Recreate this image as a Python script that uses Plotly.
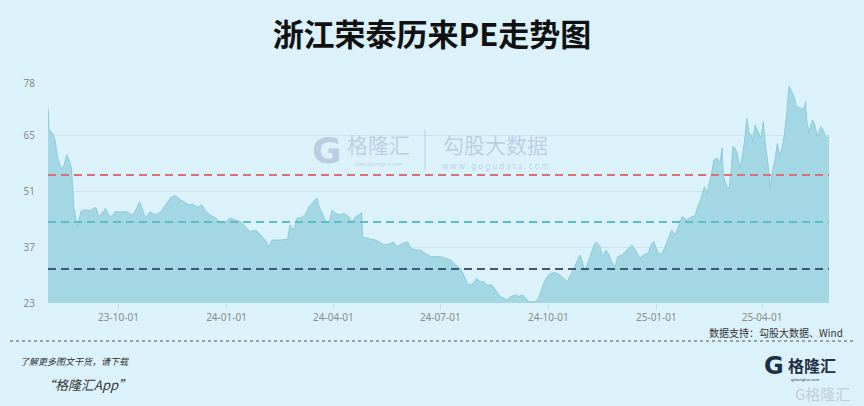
import plotly.graph_objects as go

# ---------------- data ----------------
dates = [
    "2023-08-02", "2023-08-03", "2023-08-06", "2023-08-08", "2023-08-10", "2023-08-13", "2023-08-15",
    "2023-08-18", "2023-08-20", "2023-08-22", "2023-08-24", "2023-08-26", "2023-08-27", "2023-08-30",
    "2023-09-01", "2023-09-04", "2023-09-07", "2023-09-10", "2023-09-12", "2023-09-14", "2023-09-17",
    "2023-09-20", "2023-09-23", "2023-09-26", "2023-09-28",
    "2023-10-03", "2023-10-08", "2023-10-13", "2023-10-15", "2023-10-19", "2023-10-23", "2023-10-25", "2023-10-28",
    "2023-11-01", "2023-11-06", "2023-11-10", "2023-11-14", "2023-11-17", "2023-11-19", "2023-11-23", "2023-11-27", "2023-11-30",
    "2023-12-03", "2023-12-07", "2023-12-11", "2023-12-14", "2023-12-18", "2023-12-23", "2023-12-27", "2023-12-31",
    "2024-01-04", "2024-01-09", "2024-01-13", "2024-01-17", "2024-01-21", "2024-01-26", "2024-01-30",
    "2024-02-03", "2024-02-06", "2024-02-09", "2024-02-16", "2024-02-22", "2024-02-24", "2024-02-27",
    "2024-03-01", "2024-03-05", "2024-03-08", "2024-03-11", "2024-03-14", "2024-03-16", "2024-03-18",
    "2024-03-20", "2024-03-22", "2024-03-25", "2024-03-28", "2024-03-31",
    "2024-04-03", "2024-04-06", "2024-04-10", "2024-04-14", "2024-04-17", "2024-04-20", "2024-04-23",
    "2024-04-25", "2024-04-26", "2024-04-28",
    "2024-05-03", "2024-05-07", "2024-05-11", "2024-05-15", "2024-05-20", "2024-05-22", "2024-05-25", "2024-05-30",
    "2024-06-03", "2024-06-06", "2024-06-10", "2024-06-14", "2024-06-18", "2024-06-23", "2024-06-27",
    "2024-07-01", "2024-07-05", "2024-07-10", "2024-07-14", "2024-07-18", "2024-07-21", "2024-07-24", "2024-07-27", "2024-07-30",
    "2024-08-01", "2024-08-04", "2024-08-07", "2024-08-10", "2024-08-14", "2024-08-18", "2024-08-21", "2024-08-24", "2024-08-27", "2024-08-30",
    "2024-09-03", "2024-09-06", "2024-09-09", "2024-09-12", "2024-09-14", "2024-09-19", "2024-09-22", "2024-09-24", "2024-09-27", "2024-09-30",
    "2024-10-03", "2024-10-07", "2024-10-11", "2024-10-14", "2024-10-17", "2024-10-20", "2024-10-23", "2024-10-26", "2024-10-28", "2024-10-30",
    "2024-11-01", "2024-11-03", "2024-11-06", "2024-11-09", "2024-11-11", "2024-11-14", "2024-11-16", "2024-11-19",
    "2024-11-21", "2024-11-24", "2024-11-27", "2024-11-29",
    "2024-12-03", "2024-12-07", "2024-12-11", "2024-12-14", "2024-12-18", "2024-12-21", "2024-12-25", "2024-12-28", "2024-12-30",
    "2025-01-02", "2025-01-05", "2025-01-08", "2025-01-11", "2025-01-14", "2025-01-17", "2025-01-20", "2025-01-23", "2025-01-27", "2025-01-31",
    "2025-02-03", "2025-02-05", "2025-02-07", "2025-02-09", "2025-02-11", "2025-02-13", "2025-02-15", "2025-02-17",
    "2025-02-19", "2025-02-22", "2025-02-24", "2025-02-26", "2025-02-27",
    "2025-03-02", "2025-03-04", "2025-03-06", "2025-03-07", "2025-03-09", "2025-03-11", "2025-03-13", "2025-03-15",
    "2025-03-17", "2025-03-19", "2025-03-21", "2025-03-23", "2025-03-24", "2025-03-26", "2025-03-29", "2025-03-31",
    "2025-04-02", "2025-04-04", "2025-04-06", "2025-04-08", "2025-04-10", "2025-04-12", "2025-04-14", "2025-04-16",
    "2025-04-18", "2025-04-20", "2025-04-22", "2025-04-24", "2025-04-27", "2025-04-29", "2025-04-30",
    "2025-05-04", "2025-05-07", "2025-05-08", "2025-05-09", "2025-05-11", "2025-05-12", "2025-05-14", "2025-05-16",
    "2025-05-18", "2025-05-21", "2025-05-23", "2025-05-25", "2025-05-27", "2025-05-28",
]

pe_values = [
    71.7, 66.25, 65.4, 63.75, 59.6, 56.7, 56.9, 60.0, 58.75, 56.7, 47.0, 42.9, 42.1, 45.8,
    46.25, 46.25, 46.1, 46.7, 46.8, 44.6, 45.4, 46.7, 44.75, 44.75, 45.8,
    45.8, 45.8, 45.0, 45.8, 48.3, 45.0, 44.6, 45.8,
    45.0, 45.8, 47.5, 49.2, 49.75, 49.75, 48.75, 48.1, 47.5,
    47.75, 47.0, 47.5, 46.1, 45.0, 44.2, 42.9, 43.3,
    44.2, 43.6, 43.3, 42.1, 40.8, 41.25, 40.0,
    38.75, 37.1, 38.75, 38.75, 38.9, 42.5, 41.25,
    44.2, 44.4, 45.0, 47.0, 47.9, 48.75, 49.2, 47.0, 45.8, 43.75, 42.9, 46.25,
    45.4, 45.0, 45.4, 44.6, 43.3, 44.6, 45.0, 45.6, 39.2, 39.4,
    38.9, 38.75, 38.1, 37.5, 37.9, 38.3, 37.1, 37.9,
    38.3, 36.7, 36.25, 36.25, 35.4, 34.6, 34.6,
    34.6, 34.2, 33.75, 32.5, 31.7, 30.0, 27.9, 27.5, 28.3,
    29.2, 28.3, 28.3, 27.5, 27.5, 25.8, 24.6, 24.2, 23.75, 24.6,
    25.0, 24.6, 25.0, 24.2, 23.3, 23.3, 23.75, 25.4, 27.9, 29.6,
    30.4, 30.6, 30.0, 29.2, 28.3, 30.0, 32.1, 33.75, 35.0, 33.3,
    30.8, 32.5, 35.4, 37.5, 38.3, 37.1, 34.6, 36.25, 35.4, 33.3, 32.1, 34.6,
    35.0, 36.25, 37.5, 36.25, 34.2, 35.0, 35.4, 37.9, 38.3,
    35.8, 35.0, 36.7, 39.2, 41.25, 40.0, 42.1, 44.6, 43.75, 44.6,
    44.75, 47.0, 48.3, 50.0, 52.1, 50.4, 52.9, 55.4, 58.75, 59.2, 57.9, 61.7, 54.6,
    52.1, 51.7, 57.1, 62.1, 61.7, 60.4, 56.7, 59.2, 63.3, 69.2, 65.4, 65.0, 63.3, 67.5, 65.4, 64.2,
    68.3, 62.1, 57.9, 51.7, 56.25, 58.75, 62.9, 60.0, 61.7, 65.0, 70.4, 77.25, 75.4, 73.75, 72.1,
    71.7, 71.7, 73.4, 68.75, 65.4, 67.1, 68.75, 67.5, 64.6, 67.1, 66.25, 64.6, 64.2, 65.0,
]

ref_levels = [55.0, 43.25, 31.5]          # upper band, mean, lower band
ref_colors = ["#d8707a", "#5fbcc4", "#3e5878"]

y_tickvals = [23, 37, 51, 65, 78]
x_tickvals = ["2023-10-01", "2024-01-01", "2024-04-01", "2024-07-01",
              "2024-10-01", "2025-01-01", "2025-04-01"]
x_ticktext = ["23-10-01", "24-01-01", "24-04-01", "24-07-01",
              "24-10-01", "25-01-01", "25-04-01"]

title_text = "浙江荣泰历来PE走势图"
source_text = "数据支持：勾股大数据、Wind"

# ---------------- layout helpers ----------------
W, H = 864, 406
L, R, T, B = 48, 35, 83, 103
PW, PH = W - L - R, H - T - B


def px(x):
    return (x - L) / PW


def py(y):
    return (H - B - y) / PH


BG = "#dcf2fb"
CJK = "Noto Sans CJK SC, Noto Sans, sans-serif"

fig = go.Figure()
fig.add_trace(go.Scatter(
    x=dates, y=pe_values, mode="lines", fill="tozeroy",
    line=dict(color="#8ecbd9", width=1),
    fillcolor="#a3d7e3", hoverinfo="x+y", showlegend=False,
))


def note(x, y, text, xanchor="center", **kw):
    d = dict(x=px(x), y=py(y), xref="paper", yref="paper", text=text, showarrow=False,
             xanchor=xanchor, yanchor="middle")
    d.update(kw)
    return d


wm = "rgba(135,158,188,0.42)"
annotations = [
    # watermark
    note(327, 150, "<b>G</b>", font=dict(family="DejaVu Sans", size=36, color=wm)),
    note(378, 144, "格隆汇", font=dict(family=CJK, size=21, color=wm)),
    note(378, 164, "www.gelonghui.com", font=dict(family="Noto Sans", size=5, color=wm)),
    note(495, 144, "勾股大数据", font=dict(family=CJK, size=21, color=wm)),
    note(495, 165, "w w w . g o g u d a t a . c o m", font=dict(family="Noto Sans", size=8, color=wm)),
    # source / footer
    note(845, 332, source_text, xanchor="right",
         font=dict(family=CJK, size=10, color="#333333")),
    note(18, 361, "了解更多图文干货，请下载", xanchor="left",
         font=dict(family=CJK, size=9, color="#333333", style="italic")),
    note(40, 384, "“格隆汇App”", xanchor="left",
         font=dict(family=CJK, size=13, color="#333333", style="italic")),
    note(774, 366, "<b>G</b>", font=dict(family="DejaVu Sans", size=24, color="#1f2f45")),
    note(812, 365, "<b>格隆汇</b>", font=dict(family=CJK, size=16, color="#1f2f45")),
    note(805, 379, "gelonghui.com", font=dict(family="Noto Sans", size=4, color="#1f2f45")),
    note(822, 393, "G格隆汇", font=dict(family=CJK, size=15, color="rgba(185,195,205,0.8)")),
]

shapes = [
    dict(type="line", xref="paper", yref="paper", x0=px(10), x1=px(855),
         y0=py(341), y1=py(341), line=dict(color="#555555", width=1, dash="dot")),
    dict(type="line", xref="paper", yref="paper", x0=px(425), x1=px(425),
         y0=py(130), y1=py(170), line=dict(color=wm, width=1)),
]

fig.update_layout(
    width=W, height=H,
    margin=dict(l=L, r=R, t=T, b=B),
    paper_bgcolor=BG, plot_bgcolor=BG,
    title=dict(text=f"<b>{title_text}</b>", x=0.5, xanchor="center",
               y=1 - 35 / H, yanchor="middle",
               font=dict(family=CJK, size=31, color="#111111")),
    xaxis=dict(range=[dates[0], dates[-1]], type="date",
               tickvals=x_tickvals, ticktext=x_ticktext,
               showgrid=False, zeroline=False, showline=False,
               ticks="outside", ticklen=5, tickcolor="#c4dbe4",
               tickfont=dict(family="Noto Sans", size=10, color="#8a8a8a")),
    yaxis=dict(range=[23, 78], tickvals=y_tickvals,
               showgrid=True, gridcolor="#c8e3ee", gridwidth=1,
               zeroline=False, showline=False,
               ticks="outside", ticklen=10, tickcolor="rgba(0,0,0,0)",
               tickfont=dict(family="Noto Sans", size=10, color="#8a8a8a")),
    annotations=annotations,
    shapes=shapes,
    showlegend=False,
)

for lvl, col in zip(ref_levels, ref_colors):
    fig.add_hline(y=lvl, line=dict(color=col, width=2, dash="8px,5px"), layer="above")

fig.write_html("out.html", config={"displayModeBar": False},
               post_script="document.body.style.margin='0';")
